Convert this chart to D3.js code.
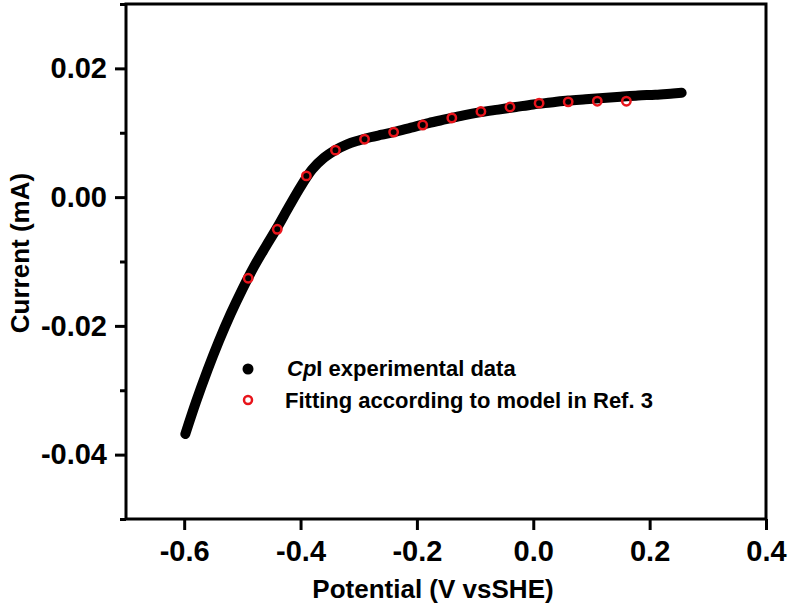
<!DOCTYPE html>
<html lang="en">
    <head>
        <meta charset="utf-8">
        <title>Current vs Potential</title>
        <script src="https://d3js.org/d3.v7.min.js"></script>
        <style>
            body { margin: 0; background: #fff; }
            text { font-family: "Liberation Sans", Arial, sans-serif; font-weight: bold; }
        </style>
    </head>
    <body>
        <div id="dataviz"></div>
        <script>
            // experimental data (V vs SHE, mA)
            var expPotential = [-0.598, -0.58, -0.56, -0.54, -0.52, -0.50, -0.48, -0.46, -0.44, -0.42,
                                -0.40, -0.38, -0.36, -0.34, -0.32, -0.30, -0.28, -0.26, -0.24, -0.21,
                                -0.18, -0.15, -0.12, -0.09, -0.06, -0.03, 0.00, 0.03, 0.06, 0.09,
                                0.12, 0.15, 0.18, 0.21, 0.24, 0.255];
            var expCurrent = [-0.0368, -0.0319, -0.0269, -0.0223, -0.0181, -0.0143, -0.0108, -0.0077, -0.0047, -0.0015,
                              0.0016, 0.0043, 0.0061, 0.0073, 0.0082, 0.0088, 0.0093, 0.0097, 0.0101, 0.0108,
                              0.0115, 0.0121, 0.0127, 0.0132, 0.0136, 0.0140, 0.0144, 0.0147, 0.0150, 0.0152,
                              0.0154, 0.0156, 0.0158, 0.0159, 0.0161, 0.0162];

            // model fit points
            var fitPotential = [-0.49, -0.44, -0.39, -0.34, -0.29, -0.24, -0.19, -0.14, -0.09, -0.04, 0.01, 0.06, 0.11, 0.16];
            var fitCurrent = [-0.0126, -0.0050, 0.0033, 0.0073, 0.0090, 0.0101, 0.0112, 0.0123, 0.0133, 0.0140, 0.0146, 0.0148, 0.0149, 0.0149];

            var xTicks = [-0.6, -0.4, -0.2, 0.0, 0.2, 0.4];
            var xTickLabels = ["-0.6", "-0.4", "-0.2", "0.0", "0.2", "0.4"];
            var yTicks = [-0.04, -0.02, 0.00, 0.02];
            var yTickLabels = ["-0.04", "-0.02", "0.00", "0.02"];
            var yMinorTicks = [-0.05, -0.03, -0.01, 0.01, 0.03];

            var W = 789, H = 608;
            var plotLeft = 126, plotRight = 766, plotTop = 4, plotBottom = 519;
            var red = "#e8141b";

            var svg = d3.select("#dataviz")
                        .append("svg")
                        .attr("width", W)
                        .attr("height", H);

            var x = d3.scaleLinear().domain([-0.7, 0.4]).range([plotLeft, plotRight]);
            var y = d3.scaleLinear().domain([-0.05, 0.03]).range([plotBottom, plotTop]);

            function styleAxis(g) {
                g.select(".domain").remove();
                g.selectAll("line").attr("stroke", "#000").attr("stroke-width", 3);
                g.selectAll("text").attr("font-size", "29px").attr("fill", "#000")
                    .attr("font-family", "Liberation Sans, Arial, sans-serif").attr("font-weight", "bold");
            }

            // bottom axis
            svg.append("g")
                .attr("transform", "translate(0," + plotBottom + ")")
                .call(d3.axisBottom(x).tickValues(xTicks).tickSize(11).tickPadding(10)
                        .tickFormat(function(d, i) { return xTickLabels[i]; }))
                .call(styleAxis);

            // left axis, major + minor
            svg.append("g")
                .attr("transform", "translate(" + plotLeft + ",0)")
                .call(d3.axisLeft(y).tickValues(yTicks).tickSize(11).tickPadding(8)
                        .tickFormat(function(d, i) { return yTickLabels[i]; }))
                .call(styleAxis);

            svg.append("g")
                .attr("transform", "translate(" + plotLeft + ",0)")
                .call(d3.axisLeft(y).tickValues(yMinorTicks).tickSize(6).tickFormat(""))
                .call(styleAxis);

            // frame
            svg.append("rect")
                .attr("x", plotLeft).attr("y", plotTop)
                .attr("width", plotRight - plotLeft).attr("height", plotBottom - plotTop)
                .attr("fill", "none").attr("stroke", "#000").attr("stroke-width", 3);

            // experimental curve
            var expData = expPotential.map(function(p, i) { return {p: p, c: expCurrent[i]}; });
            var line = d3.line()
                        .x(function(d) { return x(d.p); })
                        .y(function(d) { return y(d.c); })
                        .curve(d3.curveMonotoneX);

            svg.append("path")
                .datum(expData)
                .attr("d", line)
                .attr("fill", "none")
                .attr("stroke", "#000")
                .attr("stroke-width", 10)
                .attr("stroke-linecap", "round")
                .attr("stroke-linejoin", "round");

            // fit points
            var fitData = fitPotential.map(function(p, i) { return {p: p, c: fitCurrent[i]}; });
            svg.selectAll(".fit")
                .data(fitData)
                .enter()
                .append("circle")
                .attr("class", "fit")
                .attr("cx", function(d) { return x(d.p); })
                .attr("cy", function(d) { return y(d.c); })
                .attr("r", 4.2)
                .attr("fill", "none")
                .attr("stroke", red)
                .attr("stroke-width", 2.5);

            // legend
            var lg = svg.append("g").attr("transform", "translate(248,0)");
            lg.append("circle").attr("cx", 0).attr("cy", 369).attr("r", 5.5).attr("fill", "#000");
            lg.append("circle").attr("cx", 0).attr("cy", 400).attr("r", 4)
                .attr("fill", "none").attr("stroke", red).attr("stroke-width", 2.5);

            var t1 = lg.append("text").attr("x", 39).attr("y", 376).attr("font-size", "22px").attr("fill", "#000");
            t1.append("tspan").attr("font-style", "italic").text("Cp");
            t1.append("tspan").text("I experimental data");

            lg.append("text").attr("x", 37).attr("y", 408).attr("font-size", "22px").attr("fill", "#000")
                .text("Fitting according to model in Ref. 3");

            // axis titles
            svg.append("text")
                .attr("x", 433).attr("y", 598)
                .attr("text-anchor", "middle")
                .attr("font-size", "26px")
                .text("Potential (V vsSHE)");

            svg.append("text")
                .attr("transform", "translate(29,253) rotate(-90)")
                .attr("text-anchor", "middle")
                .attr("font-size", "26px")
                .text("Current (mA)");
        </script>
    </body>
</html>
